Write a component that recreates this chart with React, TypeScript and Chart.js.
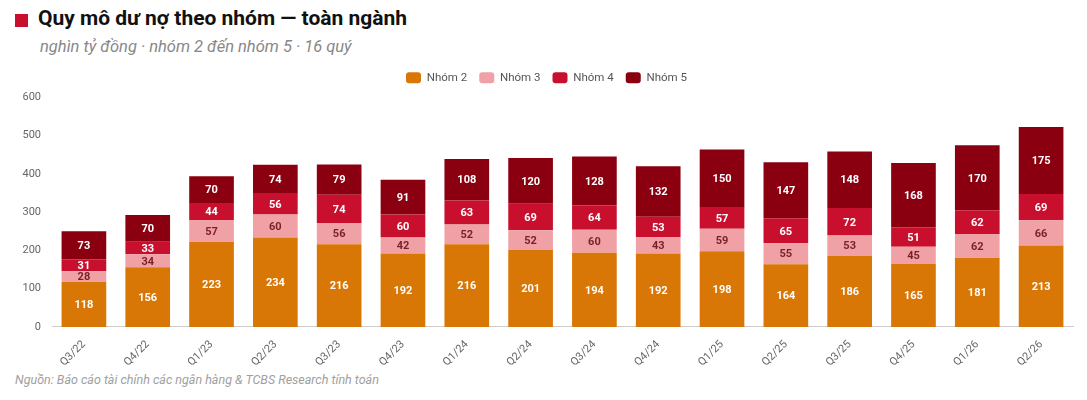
import React, { useEffect, useRef } from "react";
import { Chart, registerables } from "chart.js";

Chart.register(...registerables);

const categories = ["Q3/22","Q4/22","Q1/23","Q2/23","Q3/23","Q4/23","Q1/24","Q2/24","Q3/24","Q4/24","Q1/25","Q2/25","Q3/25","Q4/25","Q1/26","Q2/26"];
const nhom2 = [118,156,223,234,216,192,216,201,194,192,198,164,186,165,181,213];
const nhom3 = [28,34,57,60,56,42,52,52,60,43,59,55,53,45,62,66];
const nhom4 = [31,33,44,56,74,60,63,69,64,53,57,65,72,51,62,69];
const nhom5 = [73,70,70,74,79,91,108,120,128,132,150,147,148,168,170,175];
const yTicks = [0,100,200,300,400,500,600];

const FONT = "Roboto, 'Noto Sans', sans-serif";

const labelPlugin = {
  id: "barLabels",
  afterDatasetsDraw(chart: any) {
    const ctx = chart.ctx;
    ctx.save();
    ctx.font = `bold 11px ${FONT}`;
    ctx.textAlign = "center";
    ctx.textBaseline = "middle";
    chart.data.datasets.forEach((ds: any, di: number) => {
      const meta = chart.getDatasetMeta(di);
      meta.data.forEach((bar: any, i: number) => {
        const v = ds.data[i];
        const cy = (bar.y + bar.base) / 2;
        ctx.fillStyle = ds.labelColor;
        ctx.fillText(String(v), bar.x, cy + 1);
      });
    });
    ctx.restore();
  },
};

const legendGapPlugin = {
  id: "legendGap",
  beforeInit(chart: any) {
    const legend = chart.legend;
    if (!legend) return;
    const orig = legend.fit;
    legend.fit = function () {
      orig.call(this);
      this.height += 4;
    };
  },
};

export default function App() {
  const ref = useRef<HTMLCanvasElement>(null);
  useEffect(() => {
    document.body.style.margin = "0";
    const chart = new Chart(ref.current!, {
      type: "bar",
      data: {
        labels: categories,
        datasets: [
          { label: "Nhóm 2", data: nhom2, backgroundColor: "#d97706", labelColor: "#ffffff" } as any,
          { label: "Nhóm 3", data: nhom3, backgroundColor: "#f0a1a6", labelColor: "#7a1f24" } as any,
          { label: "Nhóm 4", data: nhom4, backgroundColor: "#c8102e", labelColor: "#ffffff" } as any,
          { label: "Nhóm 5", data: nhom5, backgroundColor: "#8b0010", labelColor: "#ffffff" } as any,
        ],
      },
      options: {
        animation: false,
        responsive: false,
        maintainAspectRatio: false,
        layout: { padding: { left: 20, right: 14, top: 6, bottom: 0 } },
        datasets: { bar: { categoryPercentage: 0.7, barPercentage: 1 } },
        plugins: {
          legend: {
            display: true,
            position: "top",
            labels: {
              boxWidth: 15,
              boxHeight: 11,
              useBorderRadius: true,
              borderRadius: 3,
              color: "#555",
              font: { family: FONT, size: 11.5 },
              padding: 12,
            },
          },
          tooltip: { enabled: false },
        },
        scales: {
          x: {
            stacked: true,
            grid: { display: false },
            border: { display: true, color: "#cccccc" },
            afterFit: (axis: any) => {
              axis.paddingLeft = 0;
              axis.paddingRight = 0;
            },
            ticks: {
              color: "#666",
              font: { family: FONT, size: 11 },
              maxRotation: 45,
              minRotation: 45,
            },
          },
          y: {
            stacked: true,
            min: 0,
            max: 600,
            grid: { display: false, drawTicks: false },
            border: { display: false },
            afterFit: (axis: any) => {
              axis.width = 32;
            },
            afterBuildTicks: (axis: any) => {
              axis.ticks = yTicks.map((v) => ({ value: v }));
            },
            ticks: {
              color: "#666",
              font: { family: FONT, size: 11 },
              padding: 11,
            },
          },
        },
      },
      plugins: [legendGapPlugin, labelPlugin],
    });
    return () => chart.destroy();
  }, []);

  return (
    <div style={{ position: "relative", width: 1087, height: 400, background: "#fff", fontFamily: FONT, overflow: "hidden" }}>
      <div style={{ position: "absolute", left: 15, top: 14, width: 13, height: 13, background: "#c8102e" }} />
      <div style={{ position: "absolute", left: 38, top: 6, fontSize: 21, fontWeight: 700, color: "#111", whiteSpace: "nowrap" }}>
        Quy mô dư nợ theo nhóm — toàn ngành
      </div>
      <div style={{ position: "absolute", left: 40, top: 37, fontSize: 16.5, fontStyle: "italic", color: "#888", whiteSpace: "nowrap" }}>
        nghìn tỷ đồng · nhóm 2 đến nhóm 5 · 16 quý
      </div>
      <canvas ref={ref} width={1087} height={318} style={{ position: "absolute", left: 0, top: 54, width: 1087, height: 318 }} />
      <div style={{ position: "absolute", left: 15, top: 372, fontSize: 12.5, fontStyle: "italic", color: "#a0a0a0", whiteSpace: "nowrap" }}>
        Nguồn: Báo cáo tài chính các ngân hàng &amp; TCBS Research tính toán
      </div>
    </div>
  );
}
